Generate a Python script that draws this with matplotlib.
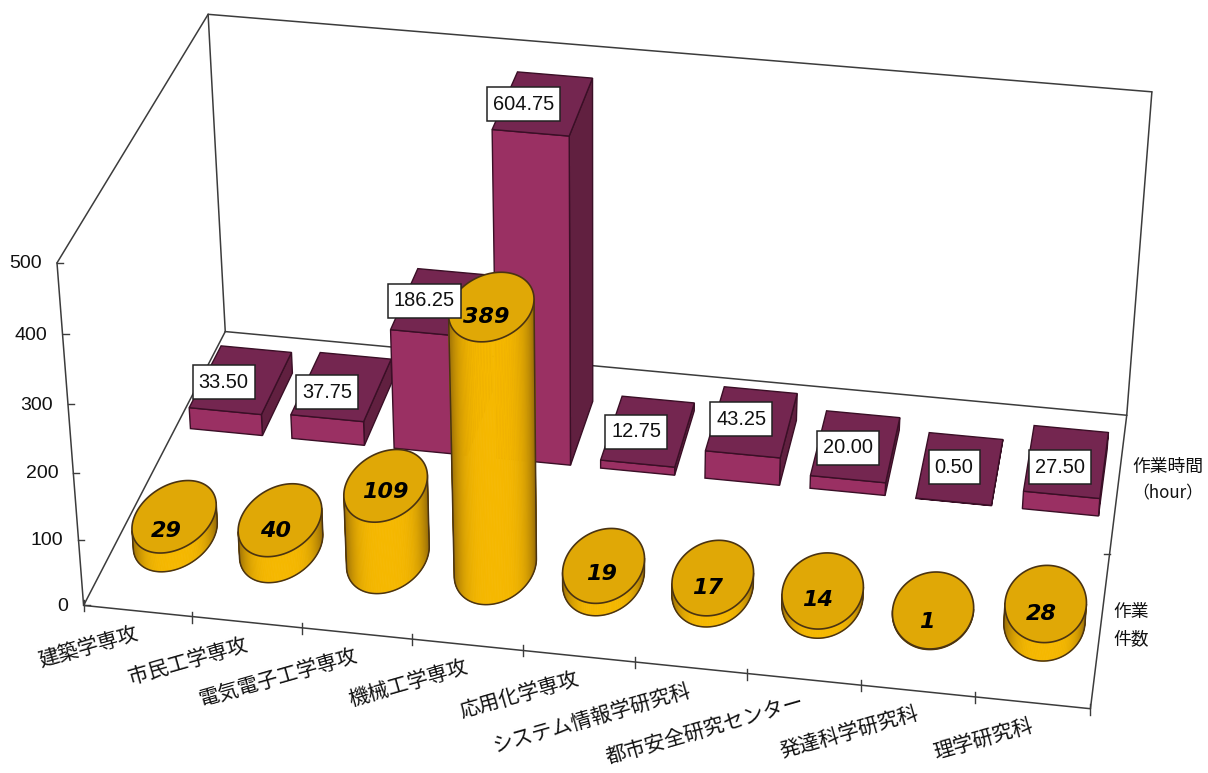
# -*- coding: utf-8 -*-
import numpy as np
import matplotlib
matplotlib.use('Agg')
from matplotlib import pyplot as plt
from matplotlib.patches import Polygon, Rectangle

plt.rcParams['font.family'] = ['Noto Sans CJK JP', 'DejaVu Sans']

categories = ['建築学専攻', '市民工学専攻', '電気電子工学専攻', '機械工学専攻', '応用化学専攻',
              'システム情報学研究科', '都市安全研究センター', '発達科学研究科', '理学研究科']
hours = [33.50, 37.75, 186.25, 604.75, 12.75, 43.25, 20.00, 0.50, 27.50]
counts = [29, 40, 109, 389, 19, 17, 14, 1, 28]
z_ticks = [0, 100, 200, 300, 400, 500]
z_max = 500

# pixel offsets of the labels from the middle of each mark's top
hour_label_shift = [(-18, 4), (-15, 7), (-17, 0), (-20, 2), (-12, 2), (-11, -1), (-8, 3), (-6, 0), (-7, 7)]
count_label_shift = [(-8, 15), (-5, 11), (0, 7), (-5, 10), (-2, 9), (-5, 10), (-5, 10), (-6, 12), (-4, 11)]

BAR_FRONT = '#9a3063'
BAR_TOP = '#742650'
BAR_SIDE = '#612040'
BAR_EDGE = '#3a0f26'
CYL_TOP = '#e0a806'
CYL_EDGE = '#4a3312'
AXIS_COLOR = '#3c3c3c'


def fitProjection():
    # box corners (category, depth, value) -> screen position
    world = [(0, 0, 0), (9, 0, 0), (0, 1, 0), (9, 1, 0), (0, 0, z_max), (0, 1, z_max), (9, 1, z_max)]
    screen = [(84, 605), (1090, 710), (225, 333), (1127, 413), (57, 262), (208, 14), (1152, 93)]
    rows = []
    for (X, Y, Z), (u, v) in zip(world, screen):
        Z = Z / z_max
        rows.append([X, Y, Z, 1, 0, 0, 0, 0, -u * X, -u * Y, -u * Z, -u])
        rows.append([0, 0, 0, 0, X, Y, Z, 1, -v * X, -v * Y, -v * Z, -v])
    return np.linalg.svd(np.array(rows, dtype=float))[2][-1].reshape(3, 4)


P = fitProjection()


def project(x, y, z):
    x, y, z = np.broadcast_arrays(x, y, np.asarray(z, dtype=float) / z_max)
    pts = P @ np.vstack([x.ravel(), y.ravel(), z.ravel(), np.ones(x.size)])
    return np.column_stack([pts[0] / pts[2], pts[1] / pts[2]])


def drawLine(ax, a, b, **kw):
    pts = project(*np.array([a, b]).T)
    ax.plot(pts[:, 0], pts[:, 1], color=AXIS_COLOR, linewidth=1.1, solid_capstyle='round', **kw)


def drawBox(ax, i, value, half_w=0.355, y0=0.625, y1=0.865):
    h = min(value, z_max)
    x0, x1 = i + 0.5 - half_w, i + 0.5 + half_w
    faces = [
        ([x1, x1, x1, x1], [y0, y1, y1, y0], [0, 0, h, h], BAR_SIDE),
        ([x0, x1, x1, x0], [y0, y0, y0, y0], [0, 0, h, h], BAR_FRONT),
        ([x0, x1, x1, x0], [y0, y0, y1, y1], [h, h, h, h], BAR_TOP),
    ]
    for fx, fy, fz, color in faces:
        ax.add_patch(Polygon(project(np.array(fx), np.array(fy), np.array(fz)), closed=True,
                             facecolor=color, edgecolor=BAR_EDGE, linewidth=1.0, zorder=2))


def cylinderShade(t):
    # darker at the rims, brightest around the middle
    edge = np.array([0.60, 0.43, 0.03])
    mid = np.array([0.96, 0.72, 0.0])
    k = np.clip(1 - (abs(t - 0.5) / 0.5) ** 4, 0, 1)
    return edge + (mid - edge) * k


def drawCylinder(ax, i, value, order, rx=0.36, ry=0.125, cy=0.255):
    th = np.linspace(0, 2 * np.pi, 181)[:-1]
    cx = i + 0.5
    ring_x = cx + rx * np.cos(th)
    ring_y = cy + ry * np.sin(th)
    low = project(ring_x, ring_y, 0 * th)
    top = project(ring_x, ring_y, 0 * th + value)

    # keep the wall strips turned towards the viewer
    n = len(th)
    nxt = (np.arange(n) + 1) % n
    area = ((low[nxt, 0] - low[:, 0]) * (top[:, 1] - low[:, 1])
            - (low[nxt, 1] - low[:, 1]) * (top[:, 0] - low[:, 0]))
    facing = area * np.sign(np.median(area[(th > np.pi)])) > 0
    start = np.where(facing & ~np.roll(facing, 1))[0]
    start = start[0] if len(start) else 0
    idx = (start + np.arange(n)) % n
    idx = idx[:facing.sum() + 1]

    xmin, xmax = low[idx, 0].min(), low[idx, 0].max()
    for a, b in zip(idx[:-1], idx[1:]):
        quad = [low[a], low[b], top[b], top[a]]
        color = cylinderShade((low[a, 0] - xmin) / max(xmax - xmin, 1))
        ax.add_patch(Polygon(quad, closed=True, facecolor=color, edgecolor=color,
                             linewidth=0.6, zorder=3 + order))
    outline = np.vstack([top[idx[0]], low[idx], top[idx[-1]]])
    ax.plot(outline[:, 0], outline[:, 1], color=CYL_EDGE, linewidth=1.1, zorder=3 + order)
    ax.add_patch(Polygon(top, closed=True, facecolor=CYL_TOP, edgecolor=CYL_EDGE,
                         linewidth=1.2, zorder=3 + order))


fig = plt.figure(figsize=(12.08, 7.73), dpi=100)
ax = fig.add_axes([0, 0, 1, 1])
ax.set_xlim(0, 1208)
ax.set_ylim(773, 0)
ax.axis('off')

# chart box
for a, b in [((0, 0, 0), (9, 0, 0)), ((0, 0, 0), (0, 1, 0)), ((9, 0, 0), (9, 1, 0)), ((0, 1, 0), (9, 1, 0)),
             ((0, 0, 0), (0, 0, z_max)), ((0, 1, 0), (0, 1, z_max)), ((9, 1, 0), (9, 1, z_max)),
             ((0, 0, z_max), (0, 1, z_max)), ((0, 1, z_max), (9, 1, z_max))]:
    drawLine(ax, a, b)

# value axis
for v in z_ticks:
    u0, v0 = project(0, 0, v)[0]
    ax.plot([u0, u0 + 6], [v0, v0], color=AXIS_COLOR, linewidth=1.0)
    ax.text(u0 - 15, v0 + 1, str(v), ha='right', va='center', fontsize=14, family='Liberation Sans', color='#111111')

# category ticks and labels
for i in range(10):
    u0, v0 = project(i, 0, 0)[0]
    ax.plot([u0, u0], [v0 - 5, v0 + 6], color=AXIS_COLOR, linewidth=1.0)
for i, name in enumerate(categories):
    u0, v0 = project(i + 0.5, 0, 0)[0]
    ax.text(u0, v0 + 22, name, ha='right', va='center', rotation=16, rotation_mode='anchor',
            fontsize=14.8, color='#111111')

# series ticks and labels
u0, v0 = project(9, 0.5, 0)[0]
ax.plot([u0 - 6, u0], [v0, v0], color=AXIS_COLOR, linewidth=1.0)
ax.text(1168, 467, '作業時間', ha='center', va='center', fontsize=12.8, color='#111111')
ax.text(1168, 493, '（hour）', ha='center', va='center', fontsize=12.2, color='#111111')
ax.text(1131, 612, '作業', ha='center', va='center', fontsize=12.8, color='#111111')
ax.text(1131, 639, '件数', ha='center', va='center', fontsize=12.8, color='#111111')

# back row
for i, v in enumerate(hours):
    drawBox(ax, i, v)

# front row
for i, v in enumerate(counts):
    drawCylinder(ax, i, v, i * 0.01)

# labels sit above all the marks
renderer = fig.canvas.get_renderer()
for i, v in enumerate(hours):
    u0, v0 = project(i + 0.5, 0.75, min(v, z_max))[0]
    dx, dy = hour_label_shift[i]
    t = ax.text(u0 + dx, v0 + dy, '%.2f' % v, ha='center', va='center', fontsize=14.4,
                family='Liberation Sans', color='#111111', zorder=11)
    w = t.get_window_extent(renderer).width + 12
    ax.add_patch(Rectangle((u0 + dx - w / 2, v0 + dy - 17), w, 34, facecolor='white', edgecolor='#222222',
                           linewidth=1.1, zorder=10))
for i, v in enumerate(counts):
    u0, v0 = project(i + 0.5, 0.255, v)[0]
    dx, dy = count_label_shift[i]
    ax.text(u0 + dx, v0 + dy, str(v), ha='center', va='center', fontsize=16, family='DejaVu Sans',
            fontweight='bold', fontstyle='oblique', color='black', zorder=10)

fig.savefig('out.png', dpi=100)
